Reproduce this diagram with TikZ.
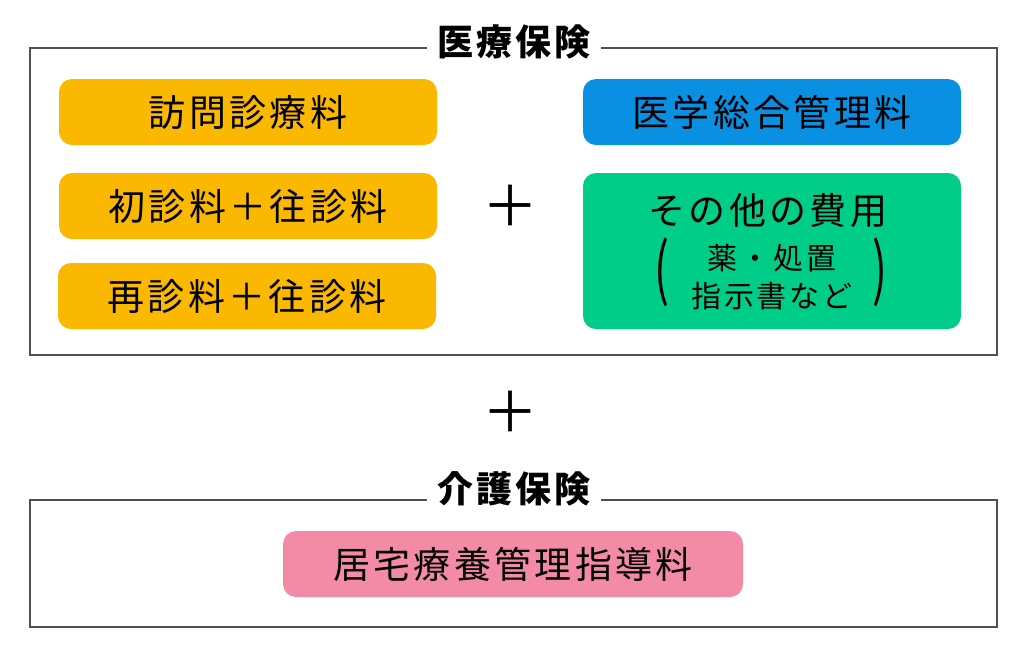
\documentclass[tikz,border=0pt]{standalone}
\usepackage{fontspec}
\setmainfont{Noto Sans CJK JP}[LetterSpace=9]
\definecolor{orangebox}{HTML}{FBB800}
\definecolor{bluebox}{HTML}{0A90E2}
\definecolor{greenbox}{HTML}{00CE88}
\definecolor{pinkbox}{HTML}{F48BA6}
\definecolor{frame}{HTML}{505050}
\begin{document}
\begin{tikzpicture}[x=1pt,y=-1pt,
  framebox/.style={draw=frame,line width=1.5pt},
  title/.style={fill=white,inner xsep=10pt,inner ysep=2pt,font=\fontsize{36}{38}\selectfont\bfseries},
  item/.style={rounded corners=13pt,minimum height=66pt,font=\fontsize{37}{40}\selectfont,text=black},
  paren/.style={font=\fontsize{44}{44}\selectfont,yscale=1.55},
  plus/.style={font=\fontsize{56}{56}\selectfont}]
\useasboundingbox (0,0) rectangle (1024,649);
% medical insurance frame
\draw[framebox] (30,48) rectangle (997,355);
\node[title] (t1) at (514,42) {医療保険};
\node[item,fill=orangebox,minimum width=378pt] (a1) at (248,112) {訪問診療料};
\node[item,fill=orangebox,minimum width=378pt] (a2) at (248,206) {初診料＋往診料};
\node[item,fill=orangebox,minimum width=378pt] (a3) at (247,296) {再診料＋往診料};
\node[plus] (p1) at (510,206) {＋};
\node[item,fill=bluebox,minimum width=378pt] (b1) at (772,112) {医学総合管理料};
\node[item,fill=greenbox,minimum width=378pt,minimum height=156pt] (b2) at (772,251) {};
\node[font=\fontsize{37}{40}\selectfont] (b2t) at (768,211) {その他の費用};
\node[font=\fontsize{30}{38}\selectfont,align=center] (b2s) at (772,277) {薬・処置\\指示書など};
\node[paren] (lp) at (662,272) {(};
\node[paren] (rp) at (880,272) {)};
% plus between
\node[plus] (p2) at (510,412) {＋};
% care insurance frame
\draw[framebox] (30,500) rectangle (997,627);
\node[title] (t2) at (514,489) {介護保険};
\node[item,fill=pinkbox,minimum width=460pt] (c1) at (513,564) {居宅療養管理指導料};
\end{tikzpicture}
\end{document}
